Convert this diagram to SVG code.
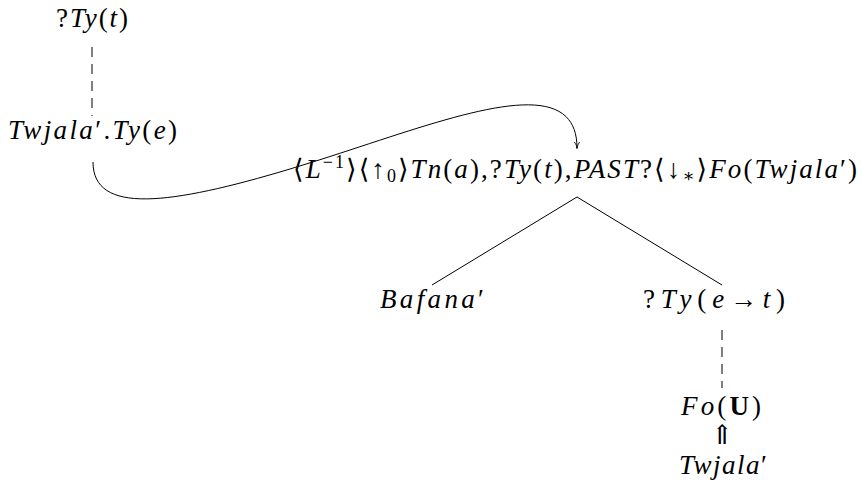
<svg xmlns="http://www.w3.org/2000/svg" width="861" height="487" viewBox="0 0 861 487">
<style>
text{font-family:"Liberation Serif","DejaVu Serif",serif;font-size:27px;font-style:italic;fill:#000}
.u{font-style:normal}
.b{font-style:normal;font-weight:bold}
.s{font-size:18px}
.e{stroke:#000;stroke-width:1;fill:none}
.d{stroke-dasharray:10,7}
</style>
<defs>
<marker id="ah" viewBox="0 0 10 10" refX="9" refY="5" markerWidth="7" markerHeight="7" orient="auto" markerUnits="userSpaceOnUse">
<path d="M0,1 Q5,5 10,5 Q5,5 0,9" fill="none" stroke="#000" stroke-width="1.2"/>
</marker>
</defs>
<g id="connectors">
<line class="e d" x1="92" y1="47" x2="92" y2="116"/>
<path class="e" d="M93,162 C93,215 170,205 290,169 C430,127 577,60 577,148" marker-end="url(#ah)"/>
<line class="e" x1="577" y1="197" x2="432" y2="285"/>
<line class="e" x1="577" y1="197" x2="722" y2="285"/>
<line class="e d" x1="722" y1="330" x2="722" y2="388"/>
</g>
<g id="n1"><text x="92" y="27" text-anchor="middle" textLength="72" lengthAdjust="spacing"><tspan class="u">?</tspan>Ty<tspan class="u">(</tspan>t<tspan class="u">)</tspan></text></g>
<g id="n2"><text x="92.5" y="139" text-anchor="middle" textLength="169" lengthAdjust="spacing">Twjala<tspan class="u">′.</tspan>Ty<tspan class="u">(</tspan>e<tspan class="u">)</tspan></text></g>
<g id="n3"><text x="293" y="178" textLength="564" lengthAdjust="spacing"><tspan class="u">⟨</tspan>L<tspan class="u s" dy="-10">−1</tspan><tspan class="u" dy="10">⟩⟨↑</tspan><tspan class="u s" dy="4">0</tspan><tspan class="u" dy="-4">⟩</tspan>Tn<tspan class="u">(</tspan>a<tspan class="u">),?</tspan>Ty<tspan class="u">(</tspan>t<tspan class="u">),</tspan>PAST<tspan class="u">?⟨↓</tspan><tspan class="u s" dy="4">∗</tspan><tspan class="u" dy="-4">⟩</tspan>Fo<tspan class="u">(</tspan>Twjala<tspan class="u">′)</tspan></text></g>
<g id="n4"><text x="432" y="308" text-anchor="middle" textLength="104" lengthAdjust="spacing">Bafana<tspan class="u">′</tspan></text></g>
<g id="n5"><text x="714" y="308" text-anchor="middle" textLength="142" lengthAdjust="spacing"><tspan class="u">?</tspan>Ty<tspan class="u">(</tspan>e<tspan class="u">→</tspan>t<tspan class="u">)</tspan></text></g>
<g id="n6"><text x="721" y="415" text-anchor="middle" textLength="80" lengthAdjust="spacing">Fo<tspan class="u">(</tspan><tspan class="b">U</tspan><tspan class="u">)</tspan></text></g>
<g id="n7"><text x="722" y="444" text-anchor="middle" class="u" font-size="18">⇑</text></g>
<g id="n8"><text x="723" y="474" text-anchor="middle" textLength="88" lengthAdjust="spacing" font-size="25">Twjala<tspan class="u">′</tspan></text></g>
</svg>
